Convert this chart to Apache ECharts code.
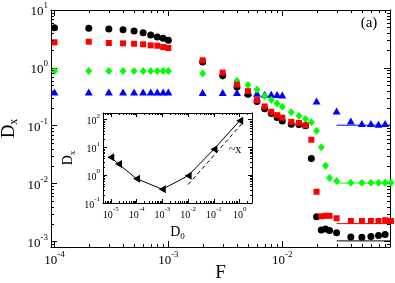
<!DOCTYPE html>
<html><head><meta charset="utf-8">
<script src="https://cdn.jsdelivr.net/npm/echarts@6/dist/echarts.min.js"></script>
<style>html,body{margin:0;padding:0;background:#fff}#c{width:395px;height:283px}</style>
</head><body><div id="c"></div>
<script>
// ---------- data ----------
const F = [0.0001,0.0002,0.0003,0.0004,0.0005,0.0006,0.0007,0.0008,0.0009,0.001,
  0.002,0.003,0.004,0.005,0.006,0.007,0.008,0.009,0.01,
  0.012,0.014,0.016,0.018,0.02,0.022,0.024,0.026,0.03,
  0.04,0.05,0.06,0.07,0.08,0.09];
const blackD = [4.94,4.82,4.69,4.56,4.33,4.05,3.69,3.41,3.24,2.99,
  1.26,0.735,0.465,0.349,0.261,0.196,0.163,0.139,0.121,
  0.106,0.105,0.0994,0.0271,0.00266,0.00157,0.00164,0.00154,0.00141,
  0.00119,0.00118,0.00121,0.00126,0.00131,null];
const redD = [2.76,2.83,2.69,2.65,2.61,2.55,2.45,2.41,2.29,2.20,
  1.35,0.828,0.513,0.396,0.277,0.215,0.174,0.152,0.138,
  0.1165,0.112,0.102,0.0573,0.00721,0.00272,0.00277,0.00277,0.00251,
  0.00225,0.00225,0.00225,0.00225,0.00232,0.00225];
const greenD = [0.88,0.88,0.88,0.88,0.88,0.88,0.88,0.88,0.88,0.88,
  0.802,0.712,0.597,0.507,0.424,0.325,0.277,0.243,0.212,
  0.1715,0.149,0.130,0.115,0.0821,0.0425,0.0203,0.0125,0.0111,
  0.0103,0.0103,0.0103,0.0103,0.0103,0.0103];
const blueD = [0.381,0.381,0.381,0.381,0.381,0.381,0.381,0.381,0.381,0.381,
  0.375,0.375,0.375,0.375,0.364,0.348,0.348,0.345,0.338,
  null,null,null,null,0.266,null,null,null,0.179,
  0.121,0.109,0.109,0.106,0.109,null];
const plateauF = [0.03, 0.09];
const plateauBlue = [0.102, 0.102];
const plateauGreen = [0.0102, 0.0102];
const plateauRed = [0.00203, 0.00203];
const plateauBlack = [0.00102, 0.00102];
// inset
const D0 = [1e-5, 2e-5, 1e-4, 1e-3, 1e-2, 1e-1, 1];
const DxInset = [4.37, 2.51, 0.745, 0.31, 0.955, 8.53, 90];
const slopeX = [0.01, 1.3];
const slopeY = [0.46, 75];
// axis ranges
const mainX = [9.32e-5, 0.0883], mainY = [8e-4, 10];
const insetX = [5e-6, 3], insetY = [0.1, 170];

// ---------- helpers ----------
const FONT = '"Liberation Serif","Times New Roman",serif';
function pair(xs, ys){ const o=[]; xs.forEach((x,i)=>{ if(ys[i]!=null) o.push([x,ys[i]]); }); return o; }
function powLabel(v){
  const e = Math.log10(v), r = Math.round(e);
  if (Math.abs(e-r) > 1e-6) return '';
  return '{b|10}{s|' + (r<0 ? '-'+(-r) : r) + '}';
}
function rich(fs, ss){
  return { b:{fontSize:fs, fontFamily:FONT, color:'#000', verticalAlign:'bottom', lineHeight:fs+4},
           s:{fontSize:ss, fontFamily:FONT, color:'#000', verticalAlign:'top', lineHeight:ss+1} };
}
function axis(grid, type, pos, range, opts){
  const main = grid===0;
  return Object.assign({
    gridIndex:grid, type:'log', logBase:10, position:pos, min:range[0], max:range[1],
    axisLine:{show:true, onZero:false, lineStyle:{color:'#000', width:1}},
    axisTick:{show:true, inside:true, length: main?6:4, lineStyle:{color:'#000', width:1}},
    minorTick:{show:false}, splitLine:{show:false},
    axisLabel:{show:false}, nameMoveOverlap:false
  }, opts||{});
}
const chart = echarts.init(document.getElementById('c'));
const opt = {
  animation:false,
  backgroundColor:'#fff',
  grid:[
    {left:51, top:10, width:339, height:237, show:false, containLabel:false, outerBoundsMode:'none'},
    {left:103, top:113, width:149, height:90, show:true, backgroundColor:'#fff', borderWidth:0, containLabel:false, outerBoundsMode:'none'}
  ],
  xAxis:[
    axis(0,'x','bottom',mainX,{axisLabel:{show:true, margin:3, formatter:powLabel, rich:rich(13,9)},
      name:'F', nameLocation:'middle', nameGap:17, nameTextStyle:{fontFamily:FONT, fontSize:19, color:'#000'}}),
    axis(0,'x','top',mainX),
    axis(1,'x','bottom',insetX,{axisLabel:{show:true, margin:3, formatter:powLabel, rich:rich(10,7)},
      name:'D{sub|0}', nameLocation:'middle', nameGap:21,
      nameTextStyle:{fontFamily:FONT, fontSize:14, color:'#000', rich:{sub:{fontFamily:FONT, fontSize:9, color:'#000', padding:[8,0,0,0]}}}}),
    axis(1,'x','top',insetX)
  ],
  yAxis:[
    axis(0,'y','left',mainY,{axisLabel:{show:true, margin:3, formatter:powLabel, rich:rich(13,9)},
      name:'D{sub|x}', nameLocation:'middle', nameGap:31,
      nameTextStyle:{fontFamily:FONT, fontSize:19, color:'#000', rich:{sub:{fontFamily:FONT, fontSize:12, color:'#000', padding:[10,0,0,0]}}}}),
    axis(0,'y','right',mainY),
    axis(1,'y','left',insetY,{axisLabel:{show:true, margin:3, formatter:powLabel, rich:rich(10,7)},
      name:'D{sub|x}', nameLocation:'middle', nameGap:26,
      nameTextStyle:{fontFamily:FONT, fontSize:14, color:'#000', rich:{sub:{fontFamily:FONT, fontSize:9, color:'#000', padding:[8,0,0,0]}}}}),
    axis(1,'y','right',insetY)
  ],
  series:[
    {type:'line', xAxisIndex:0, yAxisIndex:0, data:pair(plateauF,plateauBlue), showSymbol:false, lineStyle:{color:'#0000ff', width:1}, z:1},
    {type:'line', xAxisIndex:0, yAxisIndex:0, data:pair(plateauF,plateauGreen), showSymbol:false, lineStyle:{color:'#00ff00', width:1}, z:1},
    {type:'line', xAxisIndex:0, yAxisIndex:0, data:pair(plateauF,plateauRed), showSymbol:false, lineStyle:{color:'#ff0000', width:1}, z:1},
    {type:'line', xAxisIndex:0, yAxisIndex:0, data:pair(plateauF,plateauBlack), showSymbol:false, lineStyle:{color:'#000', width:1}, z:1},
    {type:'scatter', xAxisIndex:0, yAxisIndex:0, data:pair(F,blueD), symbol:'triangle', symbolSize:[8,7], itemStyle:{color:'#0000ff', opacity:1}, clip:false},
    {type:'scatter', xAxisIndex:0, yAxisIndex:0, data:pair(F,greenD), symbol:'diamond', symbolSize:[7,8], itemStyle:{color:'#00ff00', opacity:1}, clip:false},
    {type:'scatter', xAxisIndex:0, yAxisIndex:0, data:pair(F,blackD), symbol:'circle', symbolSize:7, itemStyle:{color:'#000', opacity:1}, clip:false},
    {type:'scatter', xAxisIndex:0, yAxisIndex:0, data:pair(F,redD), symbol:'rect', symbolSize:6, itemStyle:{color:'#ff0000', opacity:1}, clip:false},
    {type:'line', xAxisIndex:2, yAxisIndex:2, data:pair(slopeX,slopeY), showSymbol:false, lineStyle:{color:'#000', width:1, type:[4,3]}, z:5},
    {type:'line', xAxisIndex:2, yAxisIndex:2, data:pair(D0,DxInset), symbol:'triangle', symbolRotate:90, symbolSize:[8,7], showSymbol:true,
      itemStyle:{color:'#000', opacity:1}, lineStyle:{color:'#000', width:1}, z:5}
  ]
};
chart.setOption(opt);

// minor ticks (2..9 per decade) on all four sides, positioned through the axes
function minor(xi, yi, len){
  const els = [];
  const xa = opt.xAxis[xi], ya = opt.yAxis[yi];
  const xL = chart.convertToPixel({xAxisIndex:xi}, xa.min), xR = chart.convertToPixel({xAxisIndex:xi}, xa.max);
  const yB = chart.convertToPixel({yAxisIndex:yi}, ya.min), yT = chart.convertToPixel({yAxisIndex:yi}, ya.max);
  const st = {stroke:'#000', lineWidth:1};
  for (let k=Math.floor(Math.log10(xa.min)); k<=Math.ceil(Math.log10(xa.max)); k++){
    for (let m=2; m<=9; m++){
      const v = m*Math.pow(10,k);
      if (v<=xa.min || v>=xa.max) continue;
      const p = Math.round(chart.convertToPixel({xAxisIndex:xi}, v))+0.5;
      els.push({type:'line', z:100, shape:{x1:p,y1:yB,x2:p,y2:yB-len}, style:st});
      els.push({type:'line', z:100, shape:{x1:p,y1:yT,x2:p,y2:yT+len}, style:st});
    }
  }
  for (let k=Math.floor(Math.log10(ya.min)); k<=Math.ceil(Math.log10(ya.max)); k++){
    for (let m=2; m<=9; m++){
      const v = m*Math.pow(10,k);
      if (v<=ya.min || v>=ya.max) continue;
      const p = Math.round(chart.convertToPixel({yAxisIndex:yi}, v))+0.5;
      els.push({type:'line', z:100, shape:{x1:xL,y1:p,x2:xL+len,y2:p}, style:st});
      els.push({type:'line', z:100, shape:{x1:xR,y1:p,x2:xR-len,y2:p}, style:st});
    }
  }
  return els;
}
const g = [].concat(minor(0,0,3), minor(2,2,2));
g.push({type:'text', x:369, y:23, z:100, style:{text:'(a)', font:'15px '+FONT, fill:'#000', align:'center', verticalAlign:'middle'}});
g.push({type:'text', x:235, y:150, z:100, style:{text:'~x', font:'12px '+FONT, fill:'#000', align:'center', verticalAlign:'middle'}});
chart.setOption({graphic:g});
</script>
</body></html>
